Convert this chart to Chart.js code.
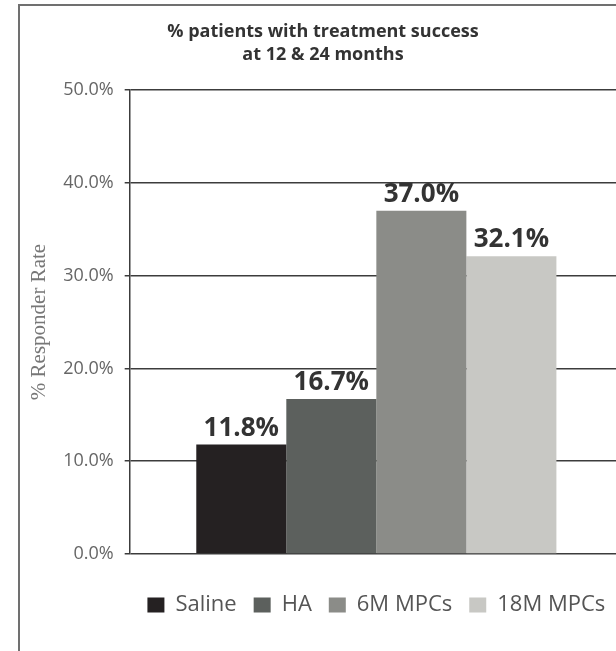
<!DOCTYPE html>
<html>
<head>
<meta charset="utf-8">
<script src="https://cdn.jsdelivr.net/npm/chart.js@4.4.1/dist/chart.umd.min.js"></script>
<style>
  html, body { margin: 0; padding: 0; background: #fff; overflow: hidden; width: 616px; height: 651px; }
  #frame { position: absolute; left: 18px; top: 4px; width: 700px; height: 700px;
           border-left: 2px solid #707070; border-top: 2px solid #707070; }
  #wrap { position: absolute; left: 0; top: 0; width: 630px; height: 651px; }
</style>
</head>
<body>
<div id="frame"></div>
<div id="wrap"><canvas id="c" width="630" height="651"></canvas></div>
<script>
// Chart data
const titleLines = ['% patients with treatment success', 'at 12 & 24 months'];
const groupLabels = [''];
const seriesNames = ['Saline', 'HA', '6M MPCs', '18M MPCs'];
const responderRate = [11.8, 16.7, 37.0, 32.1];
const yTickValues = [0, 10, 20, 30, 40, 50];
const yAxisTitle = '% Responder Rate';

// Styling
const seriesColors = ['#252122', '#5c605d', '#8b8c88', '#c8c8c4'];
const gridColor = '#3c3c3c';

const datasets = seriesNames.map((name, i) => ({
  label: name,
  data: [responderRate[i]],
  backgroundColor: seriesColors[i],
  borderWidth: 0,
  barPercentage: 1.0,
  categoryPercentage: 0.73
}));

// Value labels above each bar
const valueLabels = {
  id: 'valueLabels',
  afterDatasetsDraw(chart) {
    const ctx = chart.ctx;
    ctx.save();
    ctx.font = 'bold 26px "Open Sans"';
    ctx.fillStyle = '#333333';
    ctx.textAlign = 'center';
    ctx.textBaseline = 'alphabetic';
    chart.data.datasets.forEach((ds, i) => {
      const bar = chart.getDatasetMeta(i).data[0];
      ctx.fillText(ds.data[0].toFixed(1) + '%', bar.x, bar.y - 9);
    });
    ctx.restore();
  }
};

new Chart(document.getElementById('c'), {
  type: 'bar',
  data: { labels: groupLabels, datasets },
  plugins: [valueLabels],
  options: {
    responsive: false,
    animation: false,
    layout: { padding: { left: 23, right: 7, top: 0, bottom: 25 } },
    scales: {
      x: {
        display: true,
        grid: { display: false },
        border: { display: false },
        ticks: { display: false },
        afterFit(scale) { scale.height = 23; }
      },
      y: {
        min: 0,
        max: 50,
        afterBuildTicks(scale) { scale.ticks = yTickValues.map(v => ({ value: v })); },
        ticks: {
          callback: v => v.toFixed(1) + '%',
          color: '#666666',
          font: { family: 'Open Sans', size: 18 },
          padding: 11
        },
        grid: { color: gridColor, lineWidth: 1.5, tickLength: 5 },
        border: { color: gridColor, width: 1.5 },
        title: {
          display: true,
          text: yAxisTitle,
          color: '#777777',
          font: { family: 'Liberation Serif', size: 21 },
          padding: { top: 4, bottom: 0 }
        }
      }
    },
    plugins: {
      title: {
        display: true,
        text: titleLines,
        color: '#333333',
        font: { family: 'Open Sans', size: 18, weight: 'bold', lineHeight: 1.28 },
        padding: { top: 20, bottom: 24 }
      },
      legend: {
        display: true,
        position: 'bottom',
        fullSize: false,
        labels: {
          boxWidth: 17,
          boxHeight: 15,
          padding: 17,
          color: '#555555',
          font: { family: 'Open Sans', size: 22 }
        }
      },
      tooltip: { enabled: false }
    }
  }
});
</script>
</body>
</html>
